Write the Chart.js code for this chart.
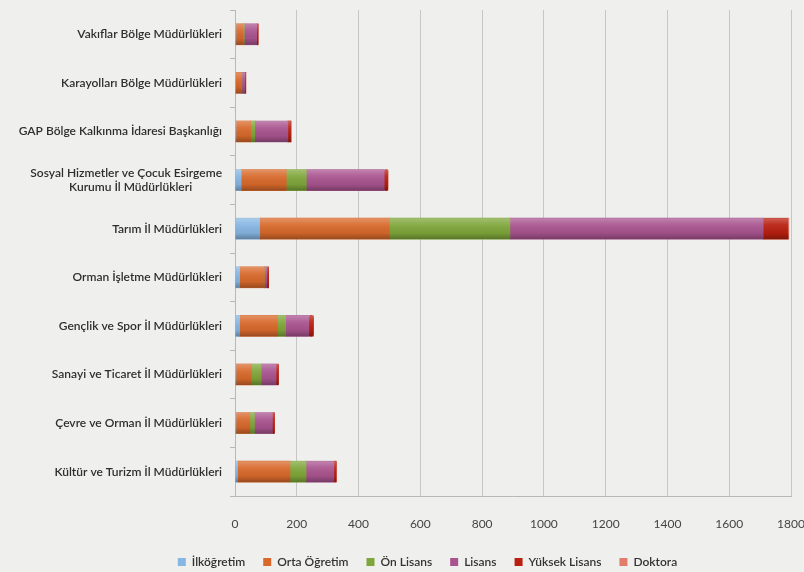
<!DOCTYPE html>
<html>
<head>
<meta charset="utf-8">
<script src="https://cdn.jsdelivr.net/npm/chart.js@4.4.1/dist/chart.umd.min.js"></script>
<style>
	html, body { margin: 0; padding: 0; background: #efefed; }
	#wrap { width: 804px; height: 572px; position: relative; }
</style>
</head>
<body>
<div id="wrap"><canvas id="bars"></canvas></div>
<script>
const categories = [
	"Vakıflar Bölge Müdürlükleri",
	"Karayolları Bölge Müdürlükleri",
	"GAP Bölge Kalkınma İdaresi Başkanlığı",
	["Sosyal Hizmetler ve Çocuk Esirgeme", "Kurumu İl Müdürlükleri          "],
	"Tarım İl Müdürlükleri",
	"Orman İşletme Müdürlükleri",
	"Gençlik ve Spor İl Müdürlükleri",
	"Sanayi ve Ticaret İl Müdürlükleri",
	"Çevre ve Orman İl Müdürlükleri",
	"Kültür ve Turizm İl Müdürlükleri",
];

const ilkogretim   = [3, 2, 3, 20, 80, 15, 15, 3, 3, 8];
const ortaOgretim  = [22, 20, 48, 146, 420, 80, 123, 50, 45, 170];
const onLisans     = [5, 0, 13, 65, 390, 0, 26, 32, 15, 52];
const lisans       = [40, 10, 107, 252, 820, 8, 75, 48, 58, 90];
const yuksekLisans = [5, 3, 10, 12, 80, 6, 15, 8, 7, 8];
const doktora      = [0, 0, 1, 0, 3, 0, 0, 0, 0, 0];

const xTicks = [0, 200, 400, 600, 800, 1000, 1200, 1400, 1600, 1800];

// soft cylinder shading over every bar segment
const shade = {
	id: "shade",
	afterDatasetsDraw(chart) {
		const c = chart.ctx;
		chart.data.datasets.forEach((ds, i) => {
			const meta = chart.getDatasetMeta(i);
			if (meta.hidden) return;
			meta.data.forEach((bar) => {
				const p = bar.getProps(["x", "y", "base", "height"], true);
				const w = p.x - p.base;
				if (w <= 0) return;
				const top = p.y - p.height / 2;
				const g = c.createLinearGradient(0, top, 0, top + p.height);
				g.addColorStop(0, "rgba(255,255,255,0.28)");
				g.addColorStop(0.3, "rgba(255,255,255,0.08)");
				g.addColorStop(0.7, "rgba(0,0,0,0.05)");
				g.addColorStop(1, "rgba(0,0,0,0.3)");
				c.save();
				c.fillStyle = g;
				c.fillRect(p.base, top, w, p.height);
				c.restore();
			});
		});
	},
};

// legend sits a bit right of the canvas centre, under the plot
const legendShift = {
	id: "legendShift",
	afterLayout(chart) {
		chart.legend.left += 32;
		chart.legend.right += 32;
	},
};

Chart.defaults.font.family = "Lato, 'Open Sans', sans-serif";
Chart.defaults.color = "#333";

const ctx = document.getElementById("bars").getContext("2d");
const chart = new Chart(ctx, {
	type: "bar",
	data: {
		labels: categories,
		datasets: [
			{ label: "İlköğretim", data: ilkogretim, backgroundColor: "#86b6e2" },
			{ label: "Orta Öğretim", data: ortaOgretim, backgroundColor: "#d8692b" },
			{ label: "Ön Lisans", data: onLisans, backgroundColor: "#7fa63a" },
			{ label: "Lisans", data: lisans, backgroundColor: "#a9548f" },
			{ label: "Yüksek Lisans", data: yuksekLisans, backgroundColor: "#b9200f" },
			{ label: "Doktora", data: doktora, backgroundColor: "#e27d6c" },
		],
	},
	options: {
		indexAxis: "y",
		responsive: true,
		maintainAspectRatio: false,
		animation: false,
		layout: { padding: { left: 0, right: 13, top: 10, bottom: -6 } },
		datasets: {
			bar: {
				barThickness: 21,
				borderRadius: 6,
				borderSkipped: false,
			},
		},
		scales: {
			x: {
				stacked: true,
				min: 0,
				max: 1800,
				afterBuildTicks: (scale) => {
					scale.ticks = xTicks.map((v) => ({ value: v }));
				},
				afterFit: (scale) => {
					scale.height = 42;
					scale.paddingLeft = 0;
					scale.paddingRight = 0;
				},
				grid: { color: "#c6c6c6", drawTicks: false },
				border: { display: true, color: "#b8b8b8" },
				ticks: {
					padding: 21,
					font: { size: 12 },
					color: "#444",
					maxRotation: 0,
					callback: (v) => String(v),
				},
			},
			y: {
				stacked: true,
				afterFit: (scale) => {
					scale.width = 235;
					scale.paddingTop = 0;
					scale.paddingBottom = 0;
				},
				grid: { drawOnChartArea: false, tickLength: 5, color: "#b8b8b8" },
				border: { display: true, color: "#b8b8b8" },
				ticks: { padding: 8, font: { size: 12, weight: "600" }, color: "#2e2e2e" },
			},
		},
		plugins: {
			legend: {
				position: "bottom",
				labels: {
					boxWidth: 8,
					boxHeight: 8,
					padding: 18,
					font: { size: 12, weight: "600" },
					color: "#333",
				},
			},
			tooltip: { enabled: false },
		},
	},
	plugins: [shade, legendShift],
});
</script>
</body>
</html>
